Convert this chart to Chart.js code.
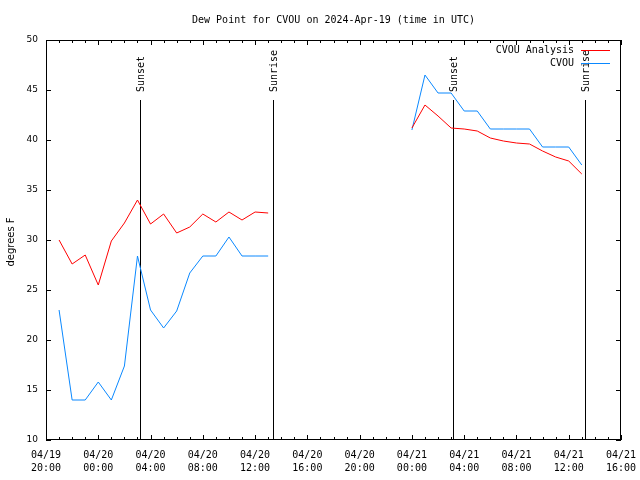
<!DOCTYPE html>
<html>
<head>
<meta charset="utf-8">
<title>Dew Point for CVOU</title>
<script src="https://cdn.jsdelivr.net/npm/chart.js@4/dist/chart.umd.min.js"></script>
<style>
  html, body { margin: 0; padding: 0; background: #fff; }
  canvas { display: block; }
</style>
</head>
<body>
<canvas id="dew" width="640" height="480"></canvas>
<script>
// x values are hours after 2024-04-19 20:00 UTC
const obsHours = [1, 2, 3, 4, 5, 6, 7, 8, 9, 10, 11, 12, 13, 14, 15, 16, 17,
  28, 29, 30, 31, 32, 33, 34, 35, 36, 37, 38, 39, 40, 41];
const analysisValues = [30.0, 27.6, 28.5, 25.5, 29.9, 31.7, 34.0, 31.6, 32.6, 30.7, 31.3, 32.6, 31.8, 32.8, 32.0, 32.8, 32.7,
  41.2, 43.5, 42.4, 41.2, 41.1, 40.9, 40.2, 39.9, 39.7, 39.6, 38.9, 38.3, 37.9, 36.6];
const obsValues = [23.0, 14.0, 14.0, 15.8, 14.0, 17.4, 28.4, 23.0, 21.2, 22.9, 26.7, 28.4, 28.4, 30.3, 28.4, 28.4, 28.4,
  41.0, 46.5, 44.7, 44.7, 42.9, 42.9, 41.1, 41.1, 41.1, 41.1, 39.3, 39.3, 39.3, 37.5];

const xTickHours = [0, 4, 8, 12, 16, 20, 24, 28, 32, 36, 40, 44];
const xTickLabels = [
  ["04/19", "20:00"], ["04/20", "00:00"], ["04/20", "04:00"], ["04/20", "08:00"],
  ["04/20", "12:00"], ["04/20", "16:00"], ["04/20", "20:00"], ["04/21", "00:00"],
  ["04/21", "04:00"], ["04/21", "08:00"], ["04/21", "12:00"], ["04/21", "16:00"]
];
const yTicks = [10, 15, 20, 25, 30, 35, 40, 45, 50];

const sunLabels = ["Sunset", "Sunrise", "Sunset", "Sunrise"];
const sunHours = [7.2, 17.38, 31.14, 41.24];

const MONO = "'DejaVu Sans Mono', 'Liberation Mono', monospace";
const SANS = "'DejaVu Sans', 'Liberation Sans', sans-serif";

// break the line where there is a gap in the hourly record
function toPoints(values) {
  const pts = [];
  obsHours.forEach((h, i) => {
    if (i > 0 && h - obsHours[i - 1] > 1) {
      pts.push({ x: (h + obsHours[i - 1]) / 2, y: null });
    }
    pts.push({ x: h, y: values[i] });
  });
  return pts;
}

const sunPlugin = {
  id: "sunLines",
  beforeDatasetsDraw(chart) {
    const { ctx, chartArea, scales } = chart;
    ctx.save();
    ctx.strokeStyle = "#000";
    ctx.lineWidth = 1;
    ctx.fillStyle = "#000";
    ctx.font = "10px " + MONO;
    sunHours.forEach((h, i) => {
      const x = Math.round(scales.x.getPixelForValue(h)) + 0.5;
      ctx.beginPath();
      ctx.moveTo(x, 100);
      ctx.lineTo(x, chartArea.bottom);
      ctx.stroke();
      ctx.save();
      ctx.translate(x + 0.5, 92);
      ctx.rotate(-Math.PI / 2);
      ctx.textAlign = "left";
      ctx.textBaseline = "middle";
      ctx.fillText(sunLabels[i], 0, 0);
      ctx.restore();
    });
    ctx.restore();
  },
};

const framePlugin = {
  id: "frame",
  afterDraw(chart) {
    const { ctx, chartArea, scales } = chart;
    const { left, right, top, bottom } = chartArea;
    ctx.save();
    ctx.strokeStyle = "#000";
    ctx.lineWidth = 1;
    ctx.strokeRect(left + 0.5, top + 0.5, right - left - 1, bottom - top - 1);

    // hourly ticks on bottom and top, pointing inward
    ctx.beginPath();
    for (let h = 0; h <= 44; h++) {
      const x = Math.round(scales.x.getPixelForValue(h)) + 0.5;
      const len = h % 4 === 0 ? 5 : 3;
      ctx.moveTo(x, bottom);
      ctx.lineTo(x, bottom - len);
      ctx.moveTo(x, top);
      ctx.lineTo(x, top + len);
    }
    yTicks.forEach((v) => {
      const y = Math.round(scales.y.getPixelForValue(v)) + 0.5;
      ctx.moveTo(left, y);
      ctx.lineTo(left + 5, y);
      ctx.moveTo(right, y);
      ctx.lineTo(right - 5, y);
    });
    ctx.stroke();

    ctx.fillStyle = "#000";
    ctx.font = "10px " + MONO;
    ctx.textAlign = "center";
    ctx.textBaseline = "middle";
    xTickHours.forEach((h, i) => {
      const x = scales.x.getPixelForValue(h);
      ctx.fillText(xTickLabels[i][0], x, 455);
      ctx.fillText(xTickLabels[i][1], x, 468);
    });

    ctx.font = "9px " + SANS;
    ctx.textAlign = "right";
    yTicks.forEach((v) => {
      ctx.fillText(String(v), 38, scales.y.getPixelForValue(v));
    });

    ctx.save();
    ctx.font = "10px " + SANS;
    ctx.translate(11, 242);
    ctx.rotate(-Math.PI / 2);
    ctx.textAlign = "center";
    ctx.fillText("degrees F", 0, 0);
    ctx.restore();

    // legend, top right inside the plot
    ctx.font = "10px " + MONO;
    ctx.textAlign = "right";
    chart.data.datasets.forEach((ds, i) => {
      const y = 50 + i * 13;
      ctx.fillStyle = "#000";
      ctx.fillText(ds.label, 574, y);
      ctx.strokeStyle = ds.borderColor;
      ctx.beginPath();
      ctx.moveTo(581, y + 0.5);
      ctx.lineTo(610, y + 0.5);
      ctx.stroke();
    });
    ctx.restore();
  },
};

new Chart(document.getElementById("dew").getContext("2d"), {
  type: "line",
  data: {
    datasets: [
      {
        label: "CVOU Analysis",
        data: toPoints(analysisValues),
        borderColor: "#ff0000",
        borderWidth: 1,
        pointRadius: 0,
        tension: 0,
        spanGaps: false,
      },
      {
        label: "CVOU",
        data: toPoints(obsValues),
        borderColor: "#0a88ff",
        borderWidth: 1,
        pointRadius: 0,
        tension: 0,
        spanGaps: false,
      },
    ],
  },
  options: {
    responsive: false,
    animation: false,
    devicePixelRatio: 1,
    layout: { padding: { left: 46, right: 19, top: 0, bottom: 40 } },
    plugins: {
      legend: { display: false },
      tooltip: { enabled: false },
      title: {
        display: true,
        text: "Dew Point for CVOU on 2024-Apr-19 (time in UTC)",
        color: "#000",
        font: { family: MONO, size: 10, weight: "normal" },
        padding: { top: 14, bottom: 14 },
      },
    },
    scales: {
      x: { type: "linear", min: 0, max: 44, display: false },
      y: { min: 10, max: 50, display: false },
    },
  },
  plugins: [sunPlugin, framePlugin],
});
</script>
</body>
</html>
